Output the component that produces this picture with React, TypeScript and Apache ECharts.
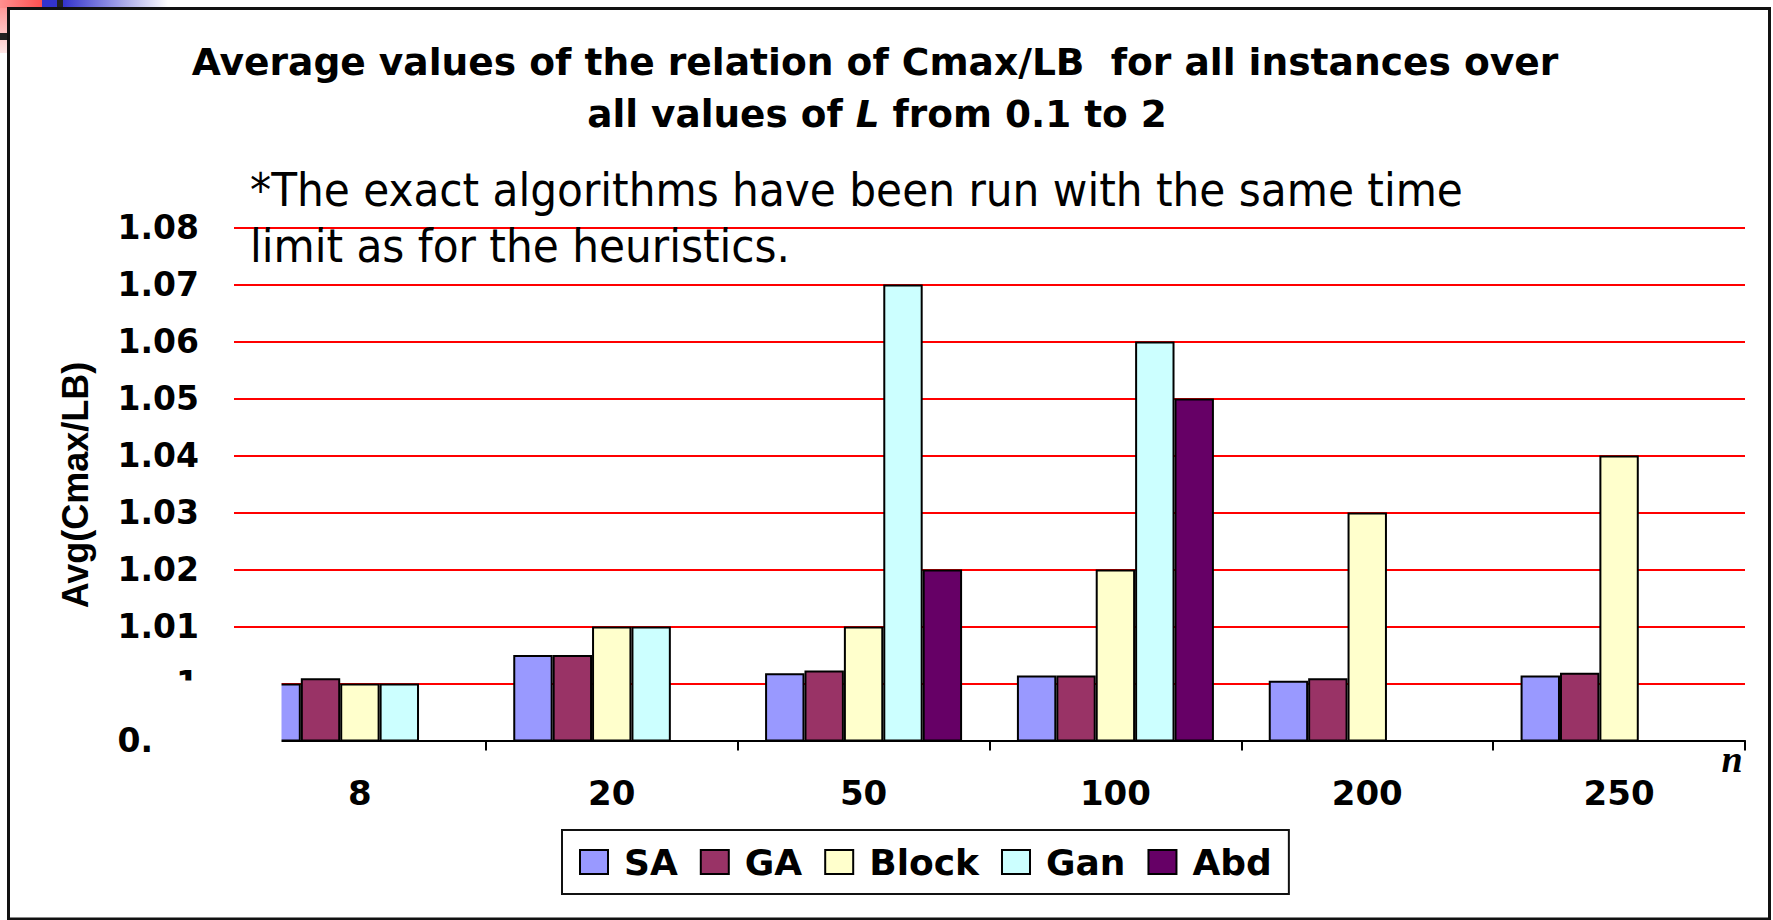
import React, { useEffect, useRef } from 'react';
import * as echarts from 'echarts';

const categories = ['8', '20', '50', '100', '200', '250'];
const seriesNames = ['SA', 'GA', 'Block', 'Gan', 'Abd'];
const saValues = [1.0, 1.005, 1.0018, 1.0014, 1.0005, 1.0014];
const gaValues = [1.0009, 1.005, 1.0023, 1.0014, 1.0009, 1.0019];
const blockValues = [1.0, 1.01, 1.01, 1.02, 1.03, 1.04];
const ganValues = [1.0, 1.01, 1.07, 1.06, null, null];
const abdValues = [null, null, 1.02, 1.05, null, null];
const seriesColors = ['#9999FF', '#993366', '#FFFFCC', '#CCFFFF', '#660066'];
const yMin = 0.99;
const yMax = 1.08;
const yInterval = 0.01;

const titleLine1 = 'Average values of the relation of Cmax/LB  for all instances over';
const noteLine1 = '*The exact algorithms have been run with the same time';
const noteLine2 = 'limit as for the heuristics.';
const yAxisTitle = 'Avg(Cmax/LB)';
const xAxisTitle = 'n';

const BOLD = 'DejaVu Sans';

export default function App() {
  const ref = useRef<HTMLDivElement>(null);
  useEffect(() => {
    const chart = echarts.init(ref.current!, null, { renderer: 'svg' });
    const allValues = [saValues, gaValues, blockValues, ganValues, abdValues];
    const option: any = {
      animation: false,
      backgroundColor: '#ffffff',
      grid: { left: 234, top: 227.5, width: 1511, height: 513, containLabel: false },
      xAxis: {
        type: 'category',
        data: categories,
        axisLine: { show: true, lineStyle: { color: '#000', width: 2 } },
        axisTick: { show: true, length: 10, lineStyle: { color: '#000', width: 2 } },
        axisLabel: { color: '#000', fontFamily: BOLD, fontWeight: 'bold', fontSize: 34, margin: 35 },
        splitLine: { show: false },
      },
      yAxis: {
        type: 'value',
        min: yMin,
        max: yMax,
        interval: yInterval,
        axisLine: { show: false },
        axisTick: { show: false },
        splitLine: { show: true, lineStyle: { color: '#FF0000', width: 2 } },
        axisLabel: {
          color: '#000',
          fontFamily: BOLD,
          fontWeight: 'bold',
          fontSize: 33,
          margin: 35,
          formatter: (v: number) => String(Math.round(v * 100) / 100),
        },
      },
      legend: {
        data: seriesNames,
        left: 562,
        top: 830,
        orient: 'horizontal',
        icon: 'rect',
        itemWidth: 28,
        itemHeight: 24,
        itemGap: 22,
        padding: [14, 17],
        backgroundColor: '#fff',
        borderColor: '#111',
        borderWidth: 2,
        borderRadius: 0,
        itemStyle: { borderColor: '#000', borderWidth: 2 },
        textStyle: { color: '#000', fontFamily: BOLD, fontWeight: 'bold', fontSize: 36, padding: [0, 0, 0, 11] },
      },
      series: seriesNames.map((name, i) => ({
        name,
        type: 'bar',
        data: allValues[i],
        barWidth: 39.4,
        barGap: '0%',
        itemStyle: { color: seriesColors[i], borderColor: '#000', borderWidth: 2 },
      })),
      graphic: [
        // slide decorations top-left
        { type: 'rect', shape: { x: 0, y: 0, width: 42, height: 8 }, style: { fill: new echarts.graphic.LinearGradient(0, 0, 1, 0, [{ offset: 0, color: '#ff9090' }, { offset: 1, color: '#ff5050' }]) }, z: 100 },
        { type: 'rect', shape: { x: 0, y: 8, width: 7, height: 45 }, style: { fill: new echarts.graphic.LinearGradient(0, 0, 0, 1, [{ offset: 0, color: '#ff9a9a' }, { offset: 1, color: '#ffe6e6' }]) }, z: 100 },
        { type: 'rect', shape: { x: 42, y: 0, width: 15, height: 8 }, style: { fill: '#3333cc' }, z: 100 },
        { type: 'rect', shape: { x: 57, y: 0, width: 6, height: 8 }, style: { fill: '#222' }, z: 100 },
        { type: 'rect', shape: { x: 63, y: 0, width: 105, height: 8 }, style: { fill: new echarts.graphic.LinearGradient(0, 0, 1, 0, [{ offset: 0, color: '#3333cc' }, { offset: 1, color: '#ffffff' }]) }, z: 100 },
        { type: 'rect', shape: { x: 0, y: 33, width: 7, height: 7 }, style: { fill: '#222' }, z: 100 },
        // frame
        { type: 'rect', shape: { x: 8.5, y: 8.5, width: 1761, height: 910.5 }, style: { fill: 'none', stroke: '#111', lineWidth: 3 }, z: 101 },
        // cover patch
        { type: 'rect', shape: { x: 153, y: 680.5, width: 128.5, height: 80 }, style: { fill: '#fff' }, z: 50 },
        // title
        { type: 'text', x: 875, y: 62, z: 60, style: { text: titleLine1, fontFamily: BOLD, fontWeight: 'bold', fontSize: 37.6, fill: '#000', align: 'center', verticalAlign: 'middle' } },
        {
          type: 'text', x: 877, y: 114, z: 60,
          style: {
            text: '{b|all values of }{i|L}{b| from 0.1 to 2}',
            align: 'center', verticalAlign: 'middle',
            rich: {
              b: { fontFamily: BOLD, fontWeight: 'bold', fontSize: 37.4, fill: '#000' },
              i: { fontFamily: BOLD, fontWeight: 'bold', fontStyle: 'italic', fontSize: 37.4, fill: '#000' },
            },
          },
        },
        // note
        { type: 'text', x: 250, y: 189, z: 60, style: { text: noteLine1, fontFamily: "'DejaVu Sans Condensed', 'DejaVu Sans'", fontSize: 47, fill: '#000', align: 'left', verticalAlign: 'middle' } },
        { type: 'text', x: 250, y: 245, z: 60, style: { text: noteLine2, fontFamily: "'DejaVu Sans Condensed', 'DejaVu Sans'", fontSize: 47, fill: '#000', align: 'left', verticalAlign: 'middle' } },
        // y axis title
        { type: 'text', x: 75, y: 485, rotation: Math.PI / 2, z: 60, style: { text: yAxisTitle, fontFamily: 'Liberation Sans', fontWeight: 'bold', fontSize: 36, fill: '#000', align: 'center', verticalAlign: 'middle' } },
        // x axis title
        { type: 'text', x: 1732, y: 759, z: 60, style: { text: xAxisTitle, fontFamily: 'Liberation Serif', fontWeight: 'bold', fontStyle: 'italic', fontSize: 38, fill: '#000', align: 'center', verticalAlign: 'middle' } },
      ],
    };
    chart.setOption(option);
    return () => chart.dispose();
  }, []);
  return <div ref={ref} style={{ position: 'fixed', left: 0, top: 0, width: 1773, height: 920, background: '#fff' }} />;
}
